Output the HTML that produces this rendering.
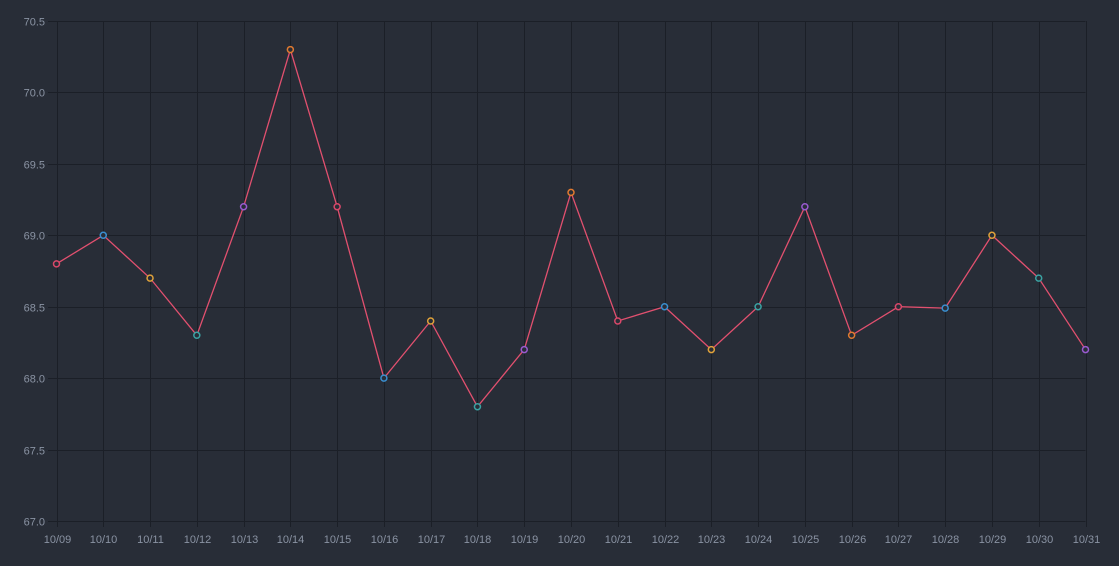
<!DOCTYPE html>
<html><head><meta charset="utf-8"><style>
html,body{margin:0;padding:0;background:#282d37;}
svg{display:block;font-family:"Liberation Sans",sans-serif;}
</style></head><body>
<svg id="chart" width="1119" height="566"></svg>
<script>
const categories=["10/09","10/10","10/11","10/12","10/13","10/14","10/15","10/16","10/17","10/18","10/19","10/20","10/21","10/22","10/23","10/24","10/25","10/26","10/27","10/28","10/29","10/30","10/31"];
const values=[68.8,69.0,68.7,68.3,69.2,70.3,69.2,68.0,68.4,67.8,68.2,69.3,68.4,68.5,68.2,68.5,69.2,68.3,68.5,68.49,69.0,68.7,68.2];
const yTicks=[67.0,67.5,68.0,68.5,69.0,69.5,70.0,70.5];
const pointColors=["#d9486a","#3a8fd0","#e0a23a","#3aa3a3","#9a5ad0","#e07a30"];
const NS="http://www.w3.org/2000/svg";
const svg=document.getElementById("chart");
const X0=56.5,X1=1085.5,Y0=521,Y1=21,YMIN=67,YMAX=70.5;
function xs(i){return X0+(X1-X0)*i/(categories.length-1);}
function ys(v){return Y0-(v-YMIN)/(YMAX-YMIN)*(Y0-Y1);}
function mk(t,a){const e=document.createElementNS(NS,t);for(const k in a)e.setAttribute(k,a[k]);svg.appendChild(e);return e;}
yTicks.forEach(v=>{
  const y=Math.round(ys(v))+0.5;
  const g=mk("line",{x1:48,x2:X1,y1:y,y2:y,stroke:"#1b1f27","stroke-width":1});
  
  
  const t=mk("text",{x:45,y:y+4,"text-anchor":"end","font-size":11,fill:"#8a93a3"});
  t.textContent=v.toFixed(1);
  
  
});
categories.forEach((c,i)=>{
  const x=Math.round(xs(i))+0.5;
  const g=mk("line",{x1:x,x2:x,y1:Y1,y2:Y0+6,stroke:"#1b1f27","stroke-width":1});
  
  
  const t=mk("text",{x:x,y:543,"text-anchor":"middle","font-size":11,fill:"#8a93a3"});
  t.textContent=c;
  
  
});
const pts=values.map((v,i)=>xs(i)+","+ys(v)).join(" ");
const line=mk("polyline",{points:pts,fill:"none",stroke:"#e2506f","stroke-width":1.3});


values.forEach((v,i)=>{
  const c=mk("circle",{cx:xs(i),cy:ys(v),r:3,fill:"#282d37",stroke:pointColors[i%pointColors.length],"stroke-width":1.5});
  
  
});
</script>
</body></html>
